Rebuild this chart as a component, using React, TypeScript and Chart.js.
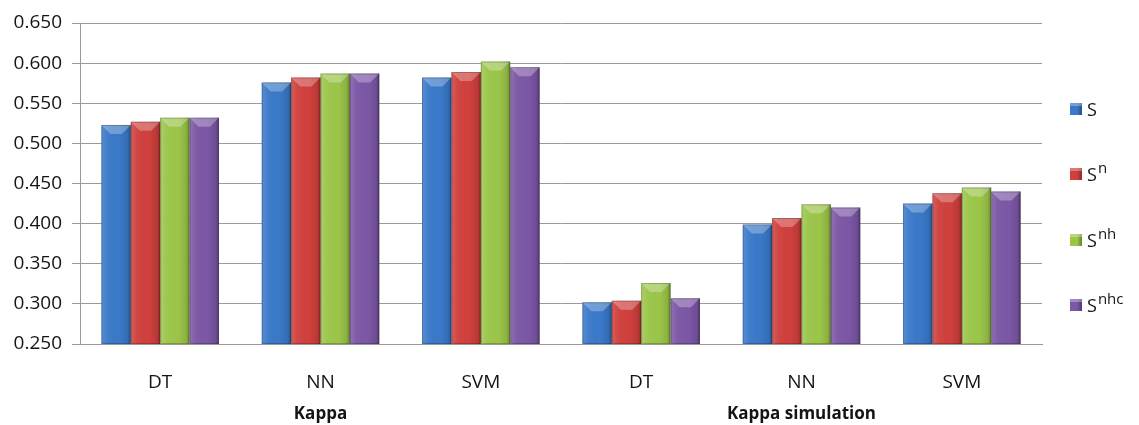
import React, { useEffect, useRef } from 'react';
import { Chart, registerables } from 'chart.js';

Chart.register(...registerables);

const categories = ['DT', 'NN', 'SVM', 'DT', 'NN', 'SVM'];
const groupLabels = ['', 'Kappa', '', '', 'Kappa simulation', ''];
const seriesBase = ['S', 'S', 'S', 'S'];
const seriesSup = ['', 'n', 'nh', 'nhc'];
const sValues = [0.523, 0.576, 0.582, 0.302, 0.399, 0.425];
const snValues = [0.527, 0.582, 0.589, 0.304, 0.407, 0.438];
const snhValues = [0.532, 0.587, 0.602, 0.326, 0.424, 0.445];
const snhcValues = [0.532, 0.587, 0.595, 0.307, 0.42, 0.44];
const yMin = 0.25;
const yMax = 0.65;
const yStep = 0.05;
const seriesColors = ['#3a79c9', '#d0403d', '#9cc64a', '#7c57a6'];

const FONT = '"Open Sans", "DejaVu Sans", sans-serif';

const bevelPlugin = {
  id: 'bevel',
  afterDatasetsDraw(chart: any) {
    const ctx = chart.ctx;
    const area = chart.chartArea;
    chart.data.datasets.forEach((_ds: any, di: number) => {
      const meta = chart.getDatasetMeta(di);
      meta.data.forEach((bar: any) => {
        const { x, y, base, width } = bar.getProps(['x', 'y', 'base', 'width'], true);
        const l = x - width / 2;
        const r = x + width / 2;
        const t = Math.max(y, area.top);
        const b = Math.min(base, area.bottom);
        if (b <= t) return;
        ctx.save();
        const g = ctx.createLinearGradient(l, 0, r, 0);
        g.addColorStop(0, 'rgba(255,255,255,0.16)');
        g.addColorStop(0.2, 'rgba(255,255,255,0.04)');
        g.addColorStop(0.6, 'rgba(0,0,0,0)');
        g.addColorStop(0.88, 'rgba(0,0,0,0.1)');
        g.addColorStop(1, 'rgba(0,0,0,0.32)');
        ctx.fillStyle = g;
        ctx.fillRect(l, t, width, b - t);
        const bh = Math.min(9, (b - t) / 2);
        ctx.beginPath();
        ctx.moveTo(l, t);
        ctx.lineTo(r, t);
        ctx.lineTo(r - bh, t + bh);
        ctx.lineTo(l + bh, t + bh);
        ctx.closePath();
        ctx.fillStyle = 'rgba(255,255,255,0.28)';
        ctx.fill();
        ctx.strokeStyle = 'rgba(0,0,0,0.22)';
        ctx.lineWidth = 1;
        ctx.strokeRect(l + 0.5, t + 0.5, width - 1, b - t - 1);
        ctx.restore();
      });
    });
  },
};

export default function App() {
  const canvasRef = useRef<HTMLCanvasElement | null>(null);

  useEffect(() => {
    const canvas = canvasRef.current;
    if (!canvas) return;
    const values = [sValues, snValues, snhValues, snhcValues];
    const chart = new Chart(canvas, {
      type: 'bar',
      data: {
        labels: categories,
        datasets: values.map((v, i) => ({
          label: seriesBase[i] + seriesSup[i],
          data: v,
          backgroundColor: seriesColors[i],
          borderWidth: 0,
          categoryPercentage: 0.733,
          barPercentage: 1.0,
          xAxisID: 'x',
        })),
      },
      options: {
        animation: false,
        responsive: true,
        maintainAspectRatio: false,
        layout: { padding: { left: 0, right: 97, top: 23, bottom: 0 } },
        plugins: {
          legend: { display: false },
          tooltip: { enabled: false },
        },
        scales: {
          x: {
            type: 'category',
            position: 'bottom',
            weight: 0,
            grid: { display: false },
            border: { display: true, color: '#9a9a9a', width: 1 },
            ticks: { color: '#141414', font: { family: FONT, size: 19 }, padding: 19 },
            afterFit: (s: any) => { s.height = 47; },
          },
          x2: {
            type: 'category',
            position: 'bottom',
            weight: 1,
            labels: groupLabels,
            grid: { display: false },
            border: { display: false },
            ticks: { color: '#141414', font: { family: FONT, size: 17, weight: 'bold' }, padding: 5, autoSkip: false, maxRotation: 0 },
            afterFit: (s: any) => { s.height = 34; },
          },
          y: {
            min: yMin,
            max: yMax,
            ticks: {
              stepSize: yStep,
              color: '#141414',
              font: { family: FONT, size: 19 },
              padding: 10,
              callback: (v: any) => Number(v).toFixed(3),
            },
            grid: { color: '#9a9a9a', lineWidth: 1, tickLength: 8, drawTicks: true },
            border: { display: true, color: '#9a9a9a', width: 1 },
            afterFit: (s: any) => { s.width = 80; },
          },
        },
      },
      plugins: [bevelPlugin],
    });
    return () => chart.destroy();
  }, []);

  const legendCenters = [109, 174, 240, 305];

  return (
    <div style={{ position: 'fixed', left: 0, top: 0, width: 1139, height: 425, background: '#fff' }}>
      <canvas ref={canvasRef} width={1139} height={425} />
      {seriesBase.map((b, i) => (
        <div
          key={i}
          style={{
            position: 'absolute',
            left: 1070,
            top: legendCenters[i] - 14,
            height: 28,
            display: 'flex',
            alignItems: 'center',
            fontFamily: FONT,
            fontSize: 18,
            color: '#141414',
            whiteSpace: 'nowrap',
          }}
        >
          <span
            style={{
              display: 'inline-block',
              width: 12,
              height: 12,
              marginRight: 5,
              background: `linear-gradient(to right, ${seriesColors[i]}, ${seriesColors[i]} 60%, rgba(0,0,0,0.35)), ${seriesColors[i]}`,
              backgroundColor: seriesColors[i],
              boxShadow: 'inset 0 3px 0 rgba(255,255,255,0.3)',
            }}
          />
          <span style={{ lineHeight: '28px' }}>
            {b}
            {seriesSup[i] ? (
              <span style={{ fontSize: 15, position: 'relative', top: -8, marginLeft: 1 }}>{seriesSup[i]}</span>
            ) : null}
          </span>
        </div>
      ))}
    </div>
  );
}
